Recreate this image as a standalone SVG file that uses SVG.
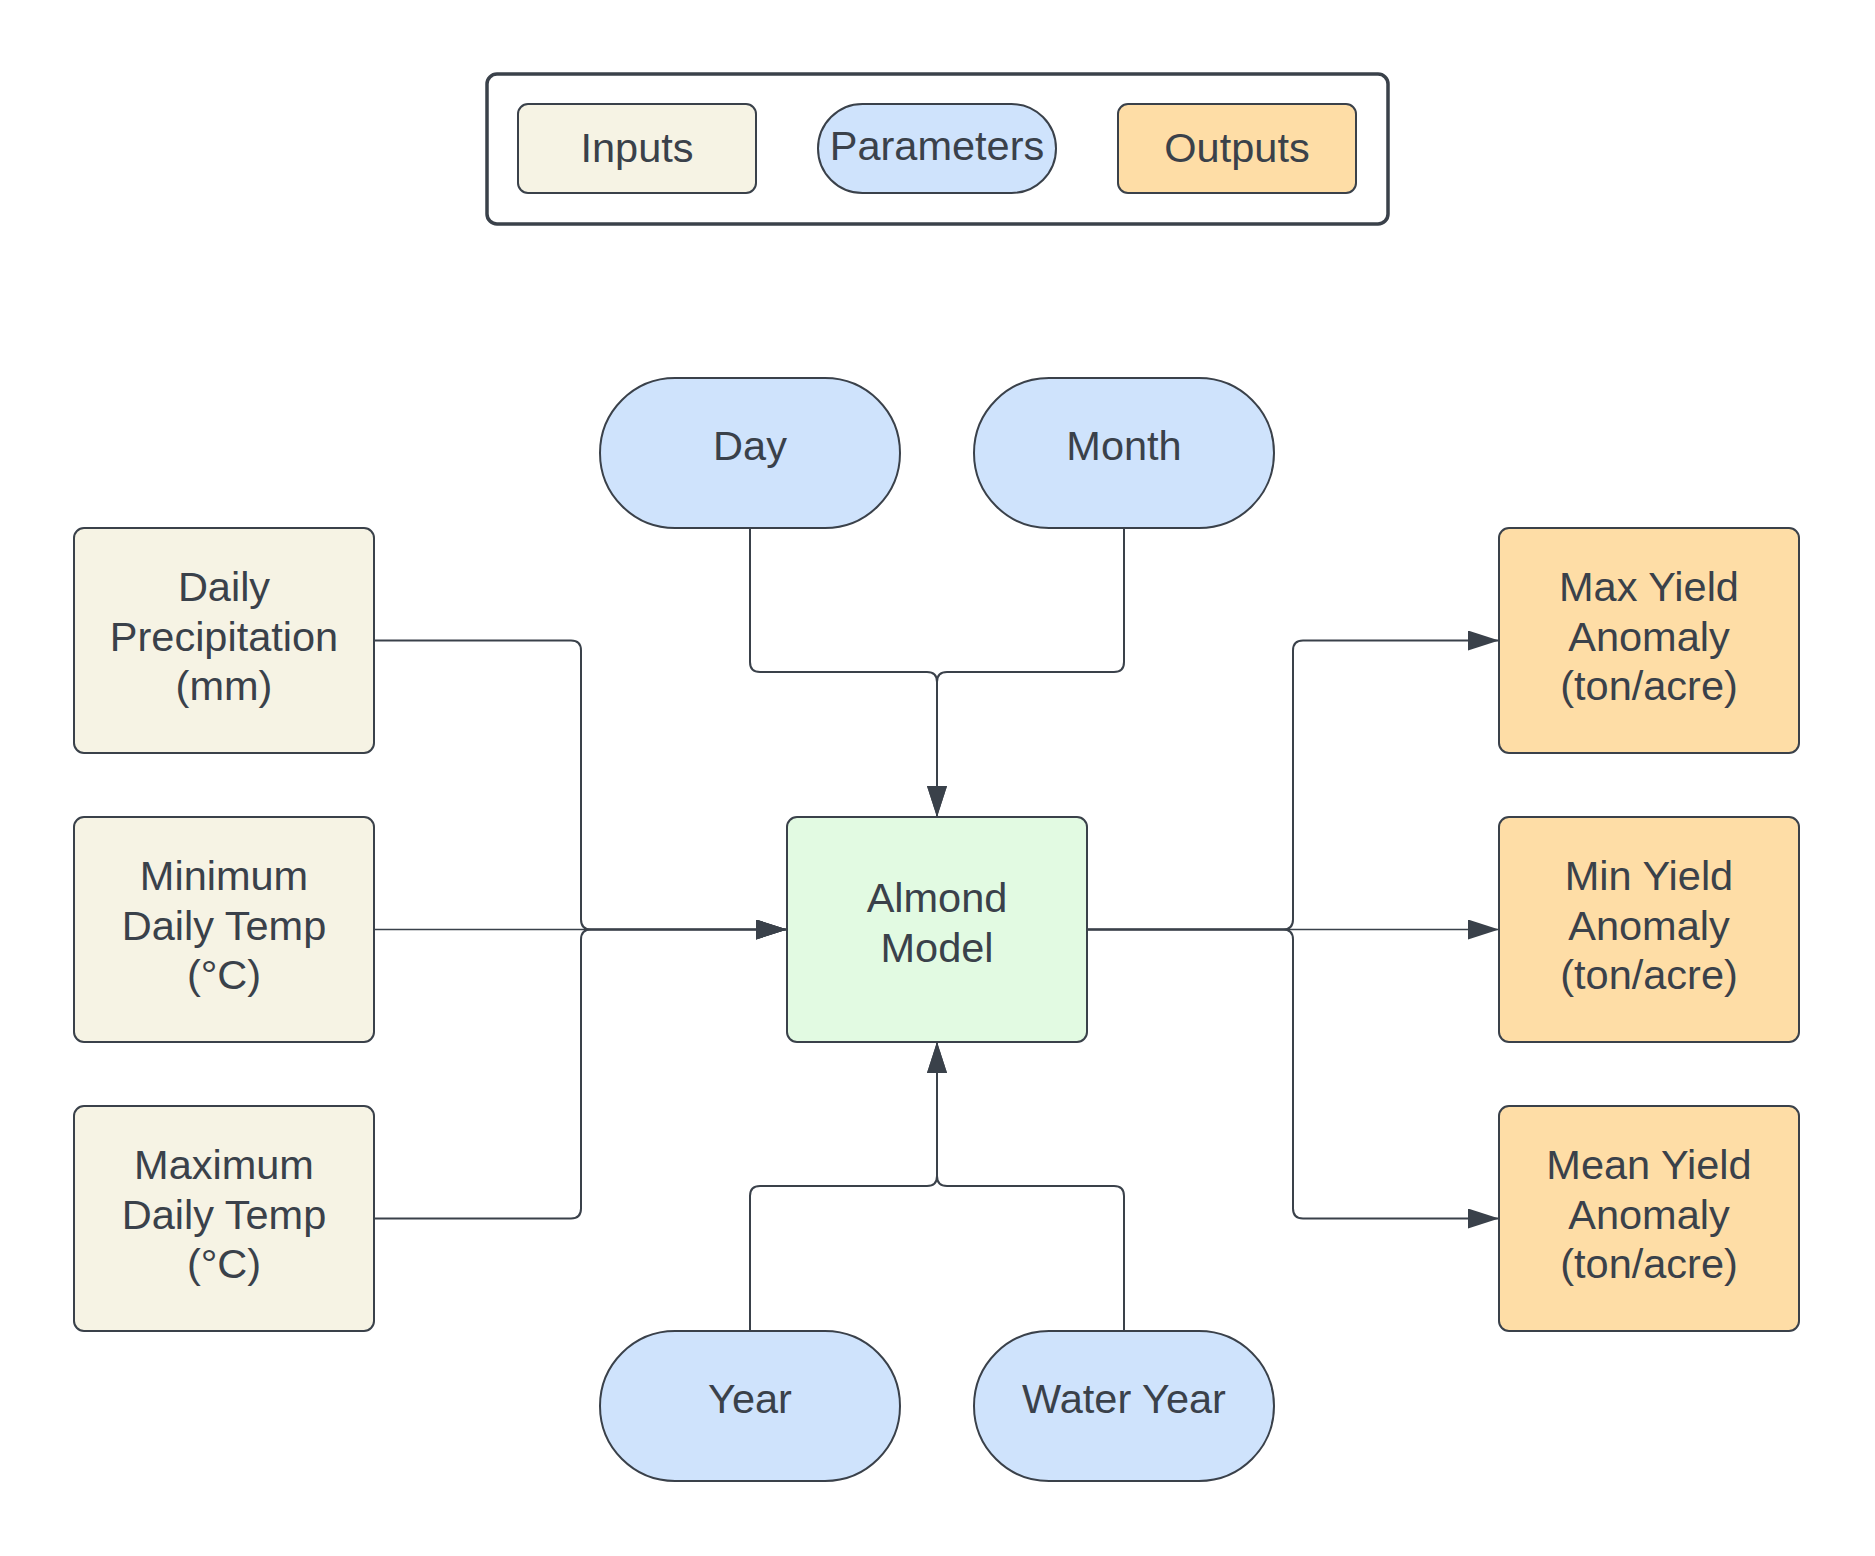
<svg xmlns="http://www.w3.org/2000/svg" width="1875" height="1556" viewBox="0 0 1875 1556">
<defs>
<style>
.t{font-family:"Liberation Sans",Arial,sans-serif;font-size:41.5px;fill:#3a414a;text-anchor:middle}
.inp{fill:#f6f3e4;stroke:#3a414a;stroke-width:2}
.par{fill:#cfe3fc;stroke:#3a414a;stroke-width:2}
.out{fill:#fedda6;stroke:#3a414a;stroke-width:2}
.mod{fill:#e2fae2;stroke:#3a414a;stroke-width:2}
.c{fill:none;stroke:#3a414a;stroke-width:2}
.c1{fill:none;stroke:#3a414a;stroke-width:1.5}
</style>
<marker id="arr" markerUnits="userSpaceOnUse" markerWidth="32" markerHeight="22" refX="31" refY="10" orient="auto">
<path d="M0,0 L31,10 L0,20 Z" fill="#3a414a"/>
</marker>
</defs>
<rect width="1875" height="1556" fill="#ffffff"/>

<g id="legend">
<rect x="487" y="74" width="901" height="150" rx="10" fill="#ffffff" stroke="#3a414a" stroke-width="3.5"/>
<rect class="inp" x="518" y="104" width="238" height="89" rx="10"/>
<text class="t" x="637" y="162">Inputs</text>
<rect class="par" x="818" y="104" width="238" height="89" rx="44.5"/>
<text class="t" x="937" y="160">Parameters</text>
<rect class="out" x="1118" y="104" width="238" height="89" rx="10"/>
<text class="t" x="1237" y="162">Outputs</text>
</g>

<g id="connectors">
<path class="c" d="M374,640.5 H571 Q581,640.5 581,650.5 V919.5 Q581,929.5 591,929.5 H787" marker-end="url(#arr)"/>
<path class="c1" d="M374,929.5 H787" marker-end="url(#arr)"/>
<path class="c" d="M374,1218.5 H571 Q581,1218.5 581,1208.5 V939.5 Q581,929.5 591,929.5 H787" marker-end="url(#arr)"/>
<path class="c" d="M750,528 V662 Q750,672 760,672 H927 Q937,672 937,682 V817" marker-end="url(#arr)"/>
<path class="c" d="M1124,528 V662 Q1124,672 1114,672 H947 Q937,672 937,682 V817" marker-end="url(#arr)"/>
<path class="c" d="M750,1331 V1196 Q750,1186 760,1186 H927 Q937,1186 937,1176 V1042" marker-end="url(#arr)"/>
<path class="c" d="M1124,1331 V1196 Q1124,1186 1114,1186 H947 Q937,1186 937,1176 V1042" marker-end="url(#arr)"/>
<path class="c" d="M1087,929.5 H1283 Q1293,929.5 1293,919.5 V650.5 Q1293,640.5 1303,640.5 H1499" marker-end="url(#arr)"/>
<path class="c1" d="M1087,929.5 H1499" marker-end="url(#arr)"/>
<path class="c" d="M1087,929.5 H1283 Q1293,929.5 1293,939.5 V1208.5 Q1293,1218.5 1303,1218.5 H1499" marker-end="url(#arr)"/>
</g>

<g id="precip">
<rect class="inp" x="74" y="528" width="300" height="225" rx="10"/>
<text class="t" x="224" y="601">Daily</text>
<text class="t" x="224" y="650.5">Precipitation</text>
<text class="t" x="224" y="700">(mm)</text>
</g>
<g id="mintemp">
<rect class="inp" x="74" y="817" width="300" height="225" rx="10"/>
<text class="t" x="224" y="890">Minimum</text>
<text class="t" x="224" y="939.5">Daily Temp</text>
<text class="t" x="224" y="989">(°C)</text>
</g>
<g id="maxtemp">
<rect class="inp" x="74" y="1106" width="300" height="225" rx="10"/>
<text class="t" x="224" y="1179">Maximum</text>
<text class="t" x="224" y="1228.5">Daily Temp</text>
<text class="t" x="224" y="1278">(°C)</text>
</g>

<g id="day">
<rect class="par" x="600" y="378" width="300" height="150" rx="75"/>
<text class="t" x="750" y="460">Day</text>
</g>
<g id="month">
<rect class="par" x="974" y="378" width="300" height="150" rx="75"/>
<text class="t" x="1124" y="460">Month</text>
</g>
<g id="year">
<rect class="par" x="600" y="1331" width="300" height="150" rx="75"/>
<text class="t" x="750" y="1413">Year</text>
</g>
<g id="wateryear">
<rect class="par" x="974" y="1331" width="300" height="150" rx="75"/>
<text class="t" x="1124" y="1413">Water Year</text>
</g>

<g id="model">
<rect class="mod" x="787" y="817" width="300" height="225" rx="10"/>
<text class="t" x="937" y="912">Almond</text>
<text class="t" x="937" y="961.5">Model</text>
</g>

<g id="maxyield">
<rect class="out" x="1499" y="528" width="300" height="225" rx="10"/>
<text class="t" x="1649" y="601">Max Yield</text>
<text class="t" x="1649" y="650.5">Anomaly</text>
<text class="t" x="1649" y="700">(ton/acre)</text>
</g>
<g id="minyield">
<rect class="out" x="1499" y="817" width="300" height="225" rx="10"/>
<text class="t" x="1649" y="890">Min Yield</text>
<text class="t" x="1649" y="939.5">Anomaly</text>
<text class="t" x="1649" y="989">(ton/acre)</text>
</g>
<g id="meanyield">
<rect class="out" x="1499" y="1106" width="300" height="225" rx="10"/>
<text class="t" x="1649" y="1179">Mean Yield</text>
<text class="t" x="1649" y="1228.5">Anomaly</text>
<text class="t" x="1649" y="1278">(ton/acre)</text>
</g>
</svg>
